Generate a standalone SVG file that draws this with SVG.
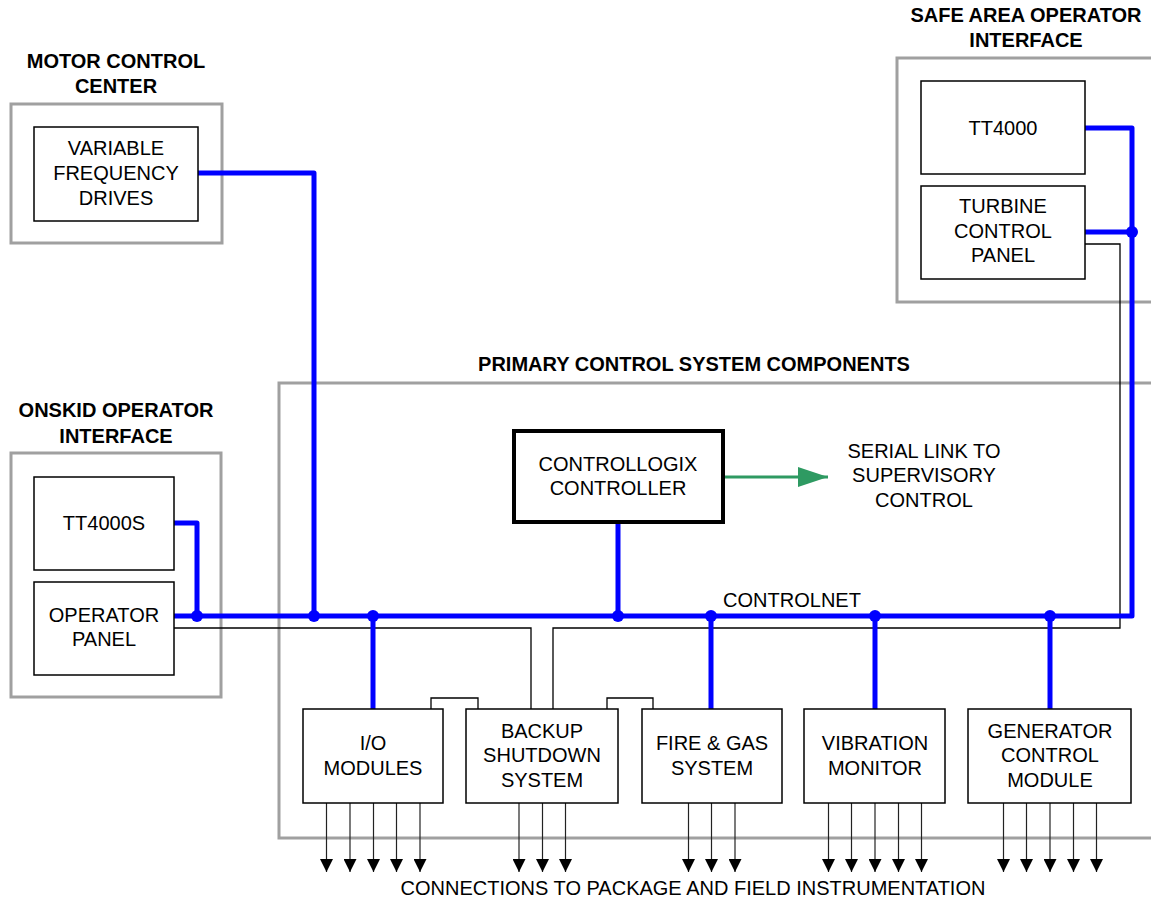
<svg xmlns="http://www.w3.org/2000/svg" width="1151" height="905" viewBox="0 0 1151 905">
<style>
text{font-family:"Liberation Sans",Arial,sans-serif;fill:#000}
.t{font-size:20px;text-anchor:middle}
.h{font-size:20px;font-weight:bold;text-anchor:middle}
.grp{fill:none;stroke:#a0a0a0;stroke-width:3}
.box{fill:#fff;stroke:#000;stroke-width:1.5}
.net{fill:none;stroke:#0000ff;stroke-width:5;stroke-linejoin:round}
.thin{fill:none;stroke:#000;stroke-width:1.3}
.io{stroke:#222;stroke-width:1.2;marker-end:url(#ah)}
.dot{fill:#0000ff}
</style>
<defs>
<marker id="ah" viewBox="0 0 12 12" refX="12" refY="6" markerWidth="13" markerHeight="13" markerUnits="userSpaceOnUse" orient="auto"><path d="M0,0 L12,6 L0,12 z" fill="#000"/></marker>
<marker id="ga" viewBox="0 0 30 20" refX="30" refY="10" markerWidth="30" markerHeight="20" markerUnits="userSpaceOnUse" orient="auto"><path d="M0,0 L30,10 L0,20 z" fill="#2e9a62"/></marker>
</defs>

<g id="group-frames">
<rect class="grp" x="11" y="104" width="211" height="139"/>
<rect class="grp" x="897" y="58" width="260" height="244"/>
<rect class="grp" x="11" y="453" width="210" height="244"/>
<rect class="grp" x="279" y="383" width="880" height="455"/>
<text class="h" x="116" y="68">MOTOR CONTROL</text>
<text class="h" x="116" y="93">CENTER</text>
<text class="h" x="1026" y="22">SAFE AREA OPERATOR</text>
<text class="h" x="1026" y="47">INTERFACE</text>
<text class="h" x="116" y="417">ONSKID OPERATOR</text>
<text class="h" x="116" y="443">INTERFACE</text>
<text class="h" x="694" y="371">PRIMARY CONTROL SYSTEM COMPONENTS</text>
</g>

<g id="connectors">
<polyline class="thin" points="174,628 531,628 531,709"/>
<polyline class="thin" points="1085,244 1120,244 1120,628 553,628 553,709"/>
<polyline class="thin" points="431,709 431,698 478,698 478,709"/>
<polyline class="thin" points="607,709 607,698 653,698 653,709"/>
<polyline class="net" points="174,616 1132,616 1132,128 1085,128"/>
<polyline class="net" points="1085,232 1132,232"/>
<polyline class="net" points="198,173 314,173 314,616"/>
<polyline class="net" points="174,523 197,523 197,616"/>
<line class="net" x1="373" y1="616" x2="373" y2="709"/>
<line class="net" x1="618" y1="524" x2="618" y2="616"/>
<line class="net" x1="711" y1="616" x2="711" y2="709"/>
<line class="net" x1="875" y1="616" x2="875" y2="709"/>
<line class="net" x1="1050" y1="616" x2="1050" y2="709"/>
<circle class="dot" cx="197" cy="616" r="6"/>
<circle class="dot" cx="314" cy="616" r="6"/>
<circle class="dot" cx="373" cy="616" r="6"/>
<circle class="dot" cx="618" cy="616" r="6"/>
<circle class="dot" cx="711" cy="616" r="6"/>
<circle class="dot" cx="875" cy="616" r="6"/>
<circle class="dot" cx="1050" cy="616" r="6"/>
<circle class="dot" cx="1132" cy="232" r="6"/>
<line x1="725" y1="477" x2="828" y2="477" stroke="#2e9a62" stroke-width="3" marker-end="url(#ga)"/>
<g id="field-arrows">
<line class="io" x1="326.5" y1="803" x2="326.5" y2="872"/>
<line class="io" x1="350" y1="803" x2="350" y2="872"/>
<line class="io" x1="373.5" y1="803" x2="373.5" y2="872"/>
<line class="io" x1="396.5" y1="803" x2="396.5" y2="872"/>
<line class="io" x1="420" y1="803" x2="420" y2="872"/>
<line class="io" x1="519" y1="803" x2="519" y2="872"/>
<line class="io" x1="542.5" y1="803" x2="542.5" y2="872"/>
<line class="io" x1="565.5" y1="803" x2="565.5" y2="872"/>
<line class="io" x1="688.5" y1="803" x2="688.5" y2="872"/>
<line class="io" x1="711.5" y1="803" x2="711.5" y2="872"/>
<line class="io" x1="735" y1="803" x2="735" y2="872"/>
<line class="io" x1="828.5" y1="803" x2="828.5" y2="872"/>
<line class="io" x1="851.5" y1="803" x2="851.5" y2="872"/>
<line class="io" x1="875" y1="803" x2="875" y2="872"/>
<line class="io" x1="898.5" y1="803" x2="898.5" y2="872"/>
<line class="io" x1="921.5" y1="803" x2="921.5" y2="872"/>
<line class="io" x1="1003.5" y1="803" x2="1003.5" y2="872"/>
<line class="io" x1="1026.5" y1="803" x2="1026.5" y2="872"/>
<line class="io" x1="1050" y1="803" x2="1050" y2="872"/>
<line class="io" x1="1073.5" y1="803" x2="1073.5" y2="872"/>
<line class="io" x1="1096.5" y1="803" x2="1096.5" y2="872"/>
</g>
<text class="t" x="792" y="607">CONTROLNET</text>
</g>

<g id="vfd"><rect class="box" x="34" y="127" width="164" height="94"/>
<text class="t" x="116" y="155">VARIABLE</text><text class="t" x="116" y="180">FREQUENCY</text><text class="t" x="116" y="205">DRIVES</text></g>
<g id="tt4000"><rect class="box" x="921" y="81" width="164" height="93"/>
<text class="t" x="1003" y="135">TT4000</text></g>
<g id="turbine-panel"><rect class="box" x="921" y="186" width="164" height="93"/>
<text class="t" x="1003" y="213">TURBINE</text><text class="t" x="1003" y="238">CONTROL</text><text class="t" x="1003" y="262">PANEL</text></g>
<g id="tt4000s"><rect class="box" x="34" y="477" width="140" height="93"/>
<text class="t" x="104" y="530">TT4000S</text></g>
<g id="operator-panel"><rect class="box" x="34" y="582" width="140" height="93"/>
<text class="t" x="104" y="622">OPERATOR</text><text class="t" x="104" y="646">PANEL</text></g>
<g id="controller"><rect x="514" y="431" width="209" height="91" fill="#fff" stroke="#000" stroke-width="4"/>
<text class="t" x="618" y="471">CONTROLLOGIX</text><text class="t" x="618" y="495">CONTROLLER</text></g>
<g id="serial-link"><text class="t" x="924" y="458">SERIAL LINK TO</text><text class="t" x="924" y="482">SUPERVISORY</text><text class="t" x="924" y="507">CONTROL</text></g>
<g id="io-modules"><rect class="box" x="303" y="709" width="140" height="94"/>
<text class="t" x="373" y="750">I/O</text><text class="t" x="373" y="775">MODULES</text></g>
<g id="backup-shutdown"><rect class="box" x="466" y="709" width="152" height="94"/>
<text class="t" x="542" y="738">BACKUP</text><text class="t" x="542" y="762">SHUTDOWN</text><text class="t" x="542" y="787">SYSTEM</text></g>
<g id="fire-gas"><rect class="box" x="642" y="709" width="140" height="94"/>
<text class="t" x="712" y="750">FIRE &amp; GAS</text><text class="t" x="712" y="775">SYSTEM</text></g>
<g id="vibration"><rect class="box" x="804" y="709" width="141" height="94"/>
<text class="t" x="875" y="750">VIBRATION</text><text class="t" x="875" y="775">MONITOR</text></g>
<g id="generator"><rect class="box" x="968" y="709" width="163" height="94"/>
<text class="t" x="1050" y="738">GENERATOR</text><text class="t" x="1050" y="762">CONTROL</text><text class="t" x="1050" y="787">MODULE</text></g>
<text class="t" x="693" y="895">CONNECTIONS TO PACKAGE AND FIELD INSTRUMENTATION</text>
</svg>
